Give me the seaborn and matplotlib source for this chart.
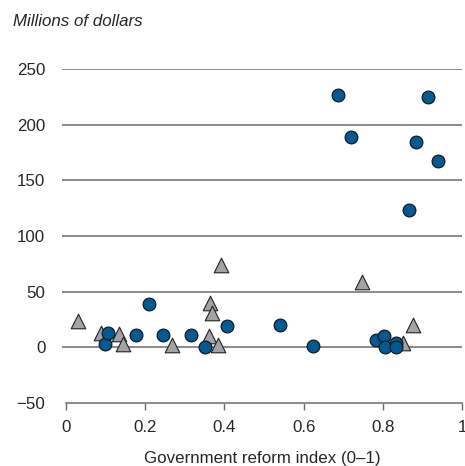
import matplotlib
matplotlib.use("Agg")
import matplotlib.pyplot as plt
import seaborn as sns
import pandas as pd

# Circle series (blue)
circle_x = [0.098, 0.106, 0.177, 0.245, 0.315, 0.351, 0.21, 0.407, 0.54, 0.624,
            0.783, 0.803, 0.806, 0.833, 0.833,
            0.687, 0.914, 0.72, 0.884, 0.94, 0.866]
circle_y = [3, 13, 11, 11, 11, 0, 39, 19, 20, 1,
            7, 10, 0, 4, 0,
            227, 225, 189, 184, 167, 123]

# Triangle series (gray)
tri_x = [0.03, 0.088, 0.134, 0.144, 0.268, 0.364, 0.368, 0.361, 0.384, 0.391,
         0.748, 0.851, 0.877]
tri_y = [24, 13, 12, 3, 2, 40, 31, 10, 2, 74,
         59, 4, 20]

y_ticks = [-50, 0, 50, 100, 150, 200, 250]
x_ticks = [0, 0.2, 0.4, 0.6, 0.8, 1.0]
x_tick_labels = ["0", "0.2", "0.4", "0.6", "0.8", "1"]

df_c = pd.DataFrame({"x": circle_x, "y": circle_y})
df_t = pd.DataFrame({"x": tri_x, "y": tri_y})

sns.set_style("white")
plt.rcParams["font.family"] = ["Liberation Sans", "DejaVu Sans"]

FS = 12.2

fig = plt.figure(figsize=(4.65, 4.66), dpi=100)
ax = fig.add_axes([62 / 465, 1 - 403 / 466, 400 / 465, (403 - 69) / 466])

for yv in y_ticks[1:]:
    ax.axhline(yv, color="#6b6b6b", lw=1.1, zorder=1)

sns.scatterplot(data=df_t, x="x", y="y", marker="^", s=110, color="#a3a3a3",
                edgecolor="#222222", linewidth=0.8, ax=ax, zorder=3, legend=False,
                clip_on=False)
sns.scatterplot(data=df_c, x="x", y="y", marker="o", s=85, color="#005a94",
                edgecolor="#111111", linewidth=0.8, ax=ax, zorder=4, legend=False,
                clip_on=False)

ax.set_xlim(-0.0101, 1.0)
ax.set_ylim(-50, 250)

for side in ["top", "right", "left"]:
    ax.spines[side].set_visible(False)
ax.spines["bottom"].set_bounds(0, 1)
ax.spines["bottom"].set_color("#6b6b6b")
ax.spines["bottom"].set_linewidth(1.1)

ax.set_xticks(x_ticks)
ax.set_xticklabels(x_tick_labels)
ax.set_yticks(y_ticks)
ax.set_yticklabels(["\u221250"] + [str(v) for v in y_ticks[1:]])
ax.tick_params(axis="x", length=5, width=1, color="#6b6b6b", pad=7,
               labelsize=FS, direction="out", bottom=True)
ax.tick_params(axis="y", length=0, pad=12, labelsize=FS)

ax.set_xlabel("Government reform index (0\u20131)", fontsize=FS, labelpad=12)
ax.set_ylabel("")
fig.text(13 / 465, 1 - 21 / 466, "Millions of dollars", fontsize=FS,
         style="italic", ha="left", va="center")

fig.savefig("out.png", dpi=100)
